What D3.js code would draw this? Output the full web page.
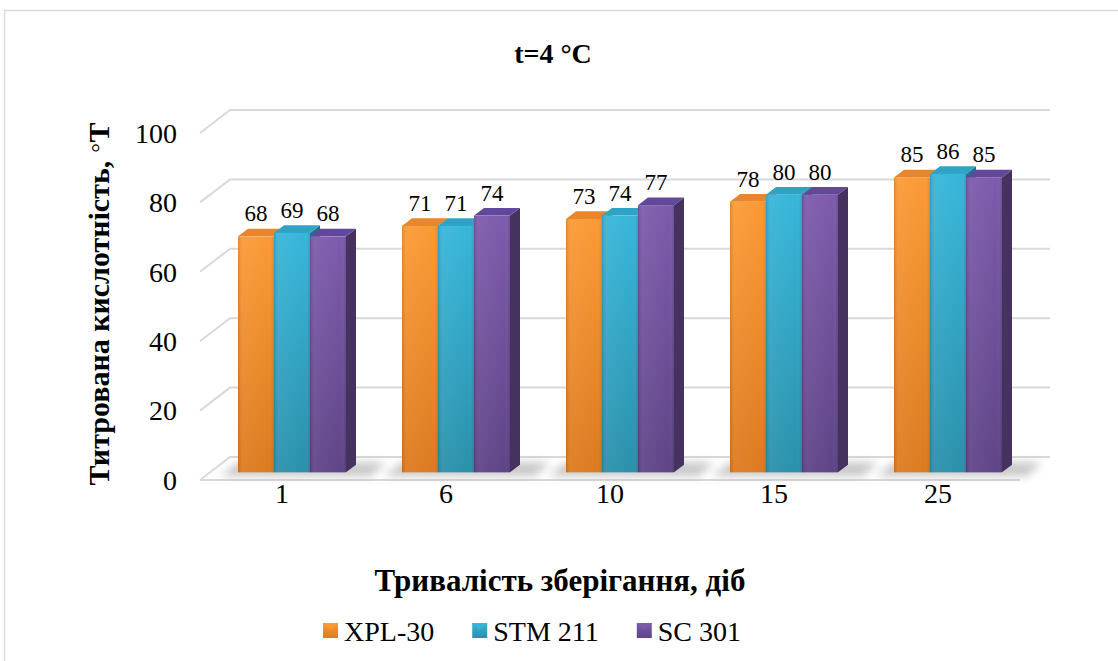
<!DOCTYPE html>
<html>
<head>
<meta charset="utf-8">
<script src="https://cdn.jsdelivr.net/npm/d3@7"></script>
</head>
<body style="margin:0;background:#fff">
<svg id="chart" width="1118" height="661" style="display:block"></svg>
<script>
// Storage days (categories)
const categories = ["1", "6", "10", "15", "25"];
// Series names
const seriesNames = ["XPL-30", "STM 211", "SC 301"];
// Titratable acidity, °T, per series
const xpl30  = [68, 71, 73, 78, 85];
const stm211 = [69, 71, 74, 80, 86];
const sc301  = [68, 74, 77, 80, 85];
const seriesValues = [xpl30, stm211, sc301];
// Axis ticks
const yTicks = [0, 20, 40, 60, 80, 100];

const title = "t=4 °C";
const xTitle = "Тривалість зберігання, діб";
const yTitle = "Титрована кислотність, ";

const fontStack = '"Times New Roman", Tinos, "Nimbus Roman", FreeSerif, "Liberation Serif", Times, serif';

// palette: front (top/bottom of gradient), side, top face
const palette = [
  { light: "#fb9a36", dark: "#dc7a1f", side: "#b8621a", top: "#e9852a" },
  { light: "#37b6da", dark: "#2a90ab", side: "#1f7288", top: "#2ea3c6" },
  { light: "#7d5bac", dark: "#5f4487", side: "#45325f", top: "#62489a" }
];

const svg = d3.select("#chart");
const defs = svg.append("defs");

// 3D projection: front plane scales + depth offset
const x = d3.scaleBand().domain(categories).range([200, 1020]);
const y = d3.scaleLinear().domain([0, 100]).range([480, 133]);
const depth = { dx: 30, dy: -23 };
const barDepthStart = 1 / 3, barDepthEnd = 2 / 3;
const groupWidth = 108;
const xs = d3.scaleBand().domain(seriesNames)
  .range([(x.bandwidth() - groupWidth) / 2, (x.bandwidth() + groupWidth) / 2]);

palette.forEach((p, i) => {
  const g = defs.append("linearGradient").attr("id", "front" + i)
    .attr("x1", 0).attr("y1", 0).attr("x2", 0).attr("y2", 1);
  g.append("stop").attr("offset", "0%").attr("stop-color", p.light);
  g.append("stop").attr("offset", "100%").attr("stop-color", p.dark);
  const h = defs.append("linearGradient").attr("id", "edge" + i)
    .attr("x1", 0).attr("y1", 0).attr("x2", 1).attr("y2", 0);
  h.append("stop").attr("offset", "0%").attr("stop-color", "#000").attr("stop-opacity", 0.12);
  h.append("stop").attr("offset", "12%").attr("stop-color", "#fff").attr("stop-opacity", 0.06);
  h.append("stop").attr("offset", "85%").attr("stop-color", "#fff").attr("stop-opacity", 0);
  h.append("stop").attr("offset", "100%").attr("stop-color", "#000").attr("stop-opacity", 0.12);
});
defs.append("filter").attr("id", "blur").attr("x", "-50%").attr("y", "-50%")
  .attr("width", "200%").attr("height", "200%")
  .append("feGaussianBlur").attr("stdDeviation", 4);

// Outer frame
svg.append("path").attr("d", "M4.5,661 L4.5,10.5 L1118,10.5")
  .attr("fill", "none").attr("stroke", "#d9d9d9").attr("stroke-width", 1.5);

const grid = svg.append("g").attr("stroke", "#d9d9d9").attr("stroke-width", 2).attr("fill", "none");
const xL = x.range()[0], xR = x.range()[1];
yTicks.forEach(v => {
  // left wall diagonal + back wall line
  grid.append("path").attr("d",
    `M${xL},${y(v)} L${xL + depth.dx},${y(v) + depth.dy} L${xR + depth.dx},${y(v) + depth.dy}`);
});
// floor front edge
grid.append("line").attr("x1", xL).attr("x2", xR).attr("y1", y(0)).attr("y2", y(0));

// Floor shadows behind each group
const shadows = svg.append("g").attr("filter", "url(#blur)");
categories.forEach(c => {
  const gx = x(c) + xs(seriesNames[seriesNames.length - 1]) + xs.bandwidth();
  const bx = gx + depth.dx * barDepthStart, by = y(0) + depth.dy * barDepthStart;
  shadows.append("path")
    .attr("d", `M${x(c) + xs(seriesNames[0]) - 8},${by + 4} L${bx + 25},${by + 4} L${bx + 40},${by - 10} L${x(c) + xs(seriesNames[0]) + 10},${by - 10} Z`)
    .attr("fill", "#9a9a9a").attr("opacity", 0.55);
});

// Bars
const ox1 = depth.dx * barDepthStart, oy1 = depth.dy * barDepthStart;
const ddx = depth.dx * (barDepthEnd - barDepthStart), ddy = depth.dy * (barDepthEnd - barDepthStart);
const bars = svg.append("g");
categories.forEach((c, ci) => {
  seriesNames.forEach((s, si) => {
    const v = seriesValues[si][ci];
    const x0 = x(c) + xs(s) + ox1, x1 = x0 + xs.bandwidth();
    const yt = y(v) + oy1, yb = y(0) + oy1;
    const p = palette[si];
    const g = bars.append("g");
    g.append("path").attr("d", `M${x1},${yt} L${x1 + ddx},${yt + ddy} L${x1 + ddx},${yb + ddy} L${x1},${yb} Z`)
      .attr("fill", p.side);
    g.append("path").attr("d", `M${x0},${yt} L${x1},${yt} L${x1 + ddx},${yt + ddy} L${x0 + ddx},${yt + ddy} Z`)
      .attr("fill", p.top);
    g.append("rect").attr("x", x0).attr("y", yt).attr("width", x1 - x0).attr("height", yb - yt)
      .attr("fill", `url(#front${si})`);
    g.append("rect").attr("x", x0).attr("y", yt).attr("width", x1 - x0).attr("height", yb - yt)
      .attr("fill", `url(#edge${si})`);
  });
});

// Text helper: serif face, size, weight
function txt(sel, size, bold) {
  return sel.attr("font-family", fontStack)
    .style("font-family", fontStack)
    .style("font-size", size + "px")
    .style("font-weight", bold ? "bold" : "normal");
}

// Value labels
const labelData = [];
categories.forEach((c, ci) => seriesNames.forEach((s, si) =>
  labelData.push({ c, s, v: seriesValues[si][ci] })));
txt(svg.append("g").selectAll("text").data(labelData).join("text"), 23)
  .attr("text-anchor", "middle")
  .attr("x", d => x(d.c) + xs(d.s) + ox1 + xs.bandwidth() / 2)
  .attr("y", d => y(d.v) + oy1 - 15)
  .text(d => d.v);

// Y axis tick labels
txt(svg.append("g").selectAll("text").data(yTicks).join("text"), 28)
  .attr("x", 177).attr("y", d => y(d)).attr("dy", "0.35em")
  .attr("text-anchor", "end").text(d => d);

// Category labels
txt(svg.append("g").selectAll("text").data(categories).join("text"), 28)
  .attr("x", d => x(d) + x.bandwidth() / 2).attr("y", 503)
  .attr("text-anchor", "middle").text(d => d);

// Titles
txt(svg.append("g").selectAll("text").data([title]).join("text"), 28, true)
  .attr("x", 553).attr("y", 63).attr("text-anchor", "middle").text(d => d);
txt(svg.append("g").selectAll("text").data([xTitle]).join("text"), 31, true)
  .attr("x", 560).attr("y", 591).attr("text-anchor", "middle").text(d => d);
const yt = txt(svg.append("g").selectAll("text").data([yTitle]).join("text"), 30, true)
  .attr("transform", "translate(109,304) rotate(-90)")
  .attr("text-anchor", "middle");
yt.append("tspan").text(d => d);
yt.append("tspan").style("font-weight", "normal").attr("dy", "-0.15em").text("◦");
yt.append("tspan").attr("dy", "0.15em").text("T");

// Legend
const legend = svg.append("g");
let lx = 323;
seriesNames.forEach((s, i) => {
  legend.append("rect").attr("x", lx).attr("y", 623).attr("width", 15).attr("height", 15)
    .attr("fill", `url(#front${i})`);
  legend.append("path").attr("d", `M${lx},623 L${lx + 15},623 L${lx + 7.5},630 Z`)
    .attr("fill", palette[i].light).attr("opacity", 0.8);
  const t = txt(legend.append("text").datum(s), 28).attr("x", lx + 21).attr("y", 641).text(s);
  lx += 21 + t.node().getComputedTextLength() + 38;
});
</script>
</body>
</html>
